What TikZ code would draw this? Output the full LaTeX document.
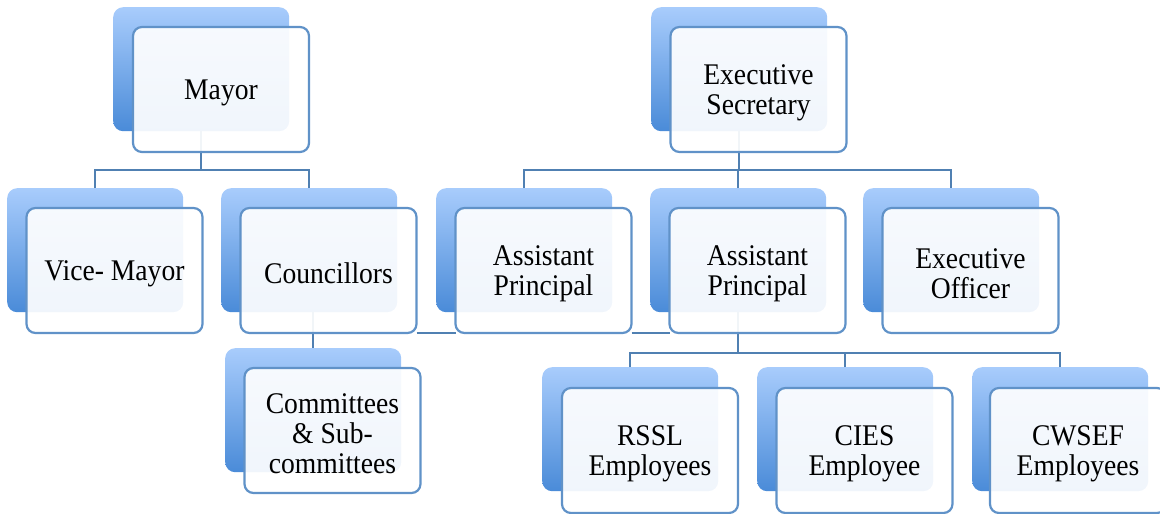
\documentclass[tikz,border=0pt]{standalone}
\usepackage{fontspec}
\setmainfont{Liberation Serif}[FakeStretch=0.92]
\definecolor{backtop}{RGB}{168,204,252}
\definecolor{backbot}{RGB}{74,139,216}
\definecolor{frontline}{RGB}{96,146,200}
\definecolor{connline}{RGB}{80,128,178}
\newcommand\boxfont{\fontsize{30}{30}\selectfont}
\tikzset{
  backbox/.style={anchor=north west, minimum width=176pt, minimum height=124pt,
    rounded corners=10pt, top color=backtop, bottom color=backbot, inner sep=0pt},
  frontbox/.style={anchor=north west, minimum width=176pt, minimum height=125pt,
    rounded corners=9pt, draw=frontline, line width=2.2pt, fill=white,
    fill opacity=0.92, inner sep=0pt, outer sep=0pt,
    label={[boxtext]center:#1}},
  boxtext/.style={align=center, font=\boxfont, text=black, fill opacity=1,
    text opacity=1, inner sep=0pt, yshift=-3pt},
  conn/.style={draw=connline, line width=2.2pt},
}
\begin{document}
\begin{tikzpicture}[x=1pt,y=-1pt]
\useasboundingbox (0,0) rectangle (1160,514);
% back boxes
\node[backbox] (mayorB) at (113,7) {};
\node[backbox] (esB) at (651,7) {};
\node[backbox] (viceB) at (7,188) {};
\node[backbox] (counB) at (221,188) {};
\node[backbox] (ap1B) at (436,188) {};
\node[backbox] (ap2B) at (650,188) {};
\node[backbox] (eoB) at (863,188) {};
\node[backbox] (commB) at (225,348) {};
\node[backbox] (rsslB) at (542,367) {};
\node[backbox] (ciesB) at (757,367) {};
\node[backbox] (cwsefB) at (972,367) {};
% bus lines
\coordinate (bus1) at (0,170);
\coordinate (bus3) at (0,353);
% connectors
\draw[conn] (mayorB.south) -- (mayorB.south |- bus1);
\draw[conn] (viceB.north) |- (counB.north |- bus1) -- (counB.north);
\draw[conn] (esB.south) -- (esB.south |- bus1);
\draw[conn] (ap1B.north) |- (eoB.north |- bus1) -- (eoB.north);
\draw[conn] (ap2B.north) -- (ap2B.north |- bus1);
\draw[conn] (counB.south -| commB.north) -- (commB.north);
\draw[conn] (ap2B.south) -- (ap2B.south |- bus3);
\draw[conn] (rsslB.north) |- (cwsefB.north |- bus3) -- (cwsefB.north);
\draw[conn] (ciesB.north) -- (ciesB.north |- bus3);
% front boxes
\node[frontbox={Mayor}] (mayor) at (133,27) {};
\node[frontbox={Executive\\Secretary}] (es) at (670.5,27) {};
\node[frontbox={Vice- Mayor}] (vice) at (26.5,208) {};
\node[frontbox={Councillors}] (coun) at (240.5,208) {};
\node[frontbox={Assistant\\Principal}] (ap1) at (455.5,208) {};
\node[frontbox={Assistant\\Principal}] (ap2) at (669.5,208) {};
\node[frontbox={Executive\\Officer}] (eo) at (882.5,208) {};
\node[frontbox={Committees\\\& Sub-\\committees}] (comm) at (244.5,368) {};
\node[frontbox={RSSL\\Employees}] (rssl) at (562,388) {};
\node[frontbox={CIES\\Employee}] (cies) at (776.5,388) {};
\node[frontbox={CWSEF\\Employees}] (cwsef) at (990,388) {};
% line along bottoms
\draw[conn] (coun.south east) -- (ap1.south west);
\draw[conn] (ap1.south east) -- (ap2.south west);
\end{tikzpicture}
\end{document}
